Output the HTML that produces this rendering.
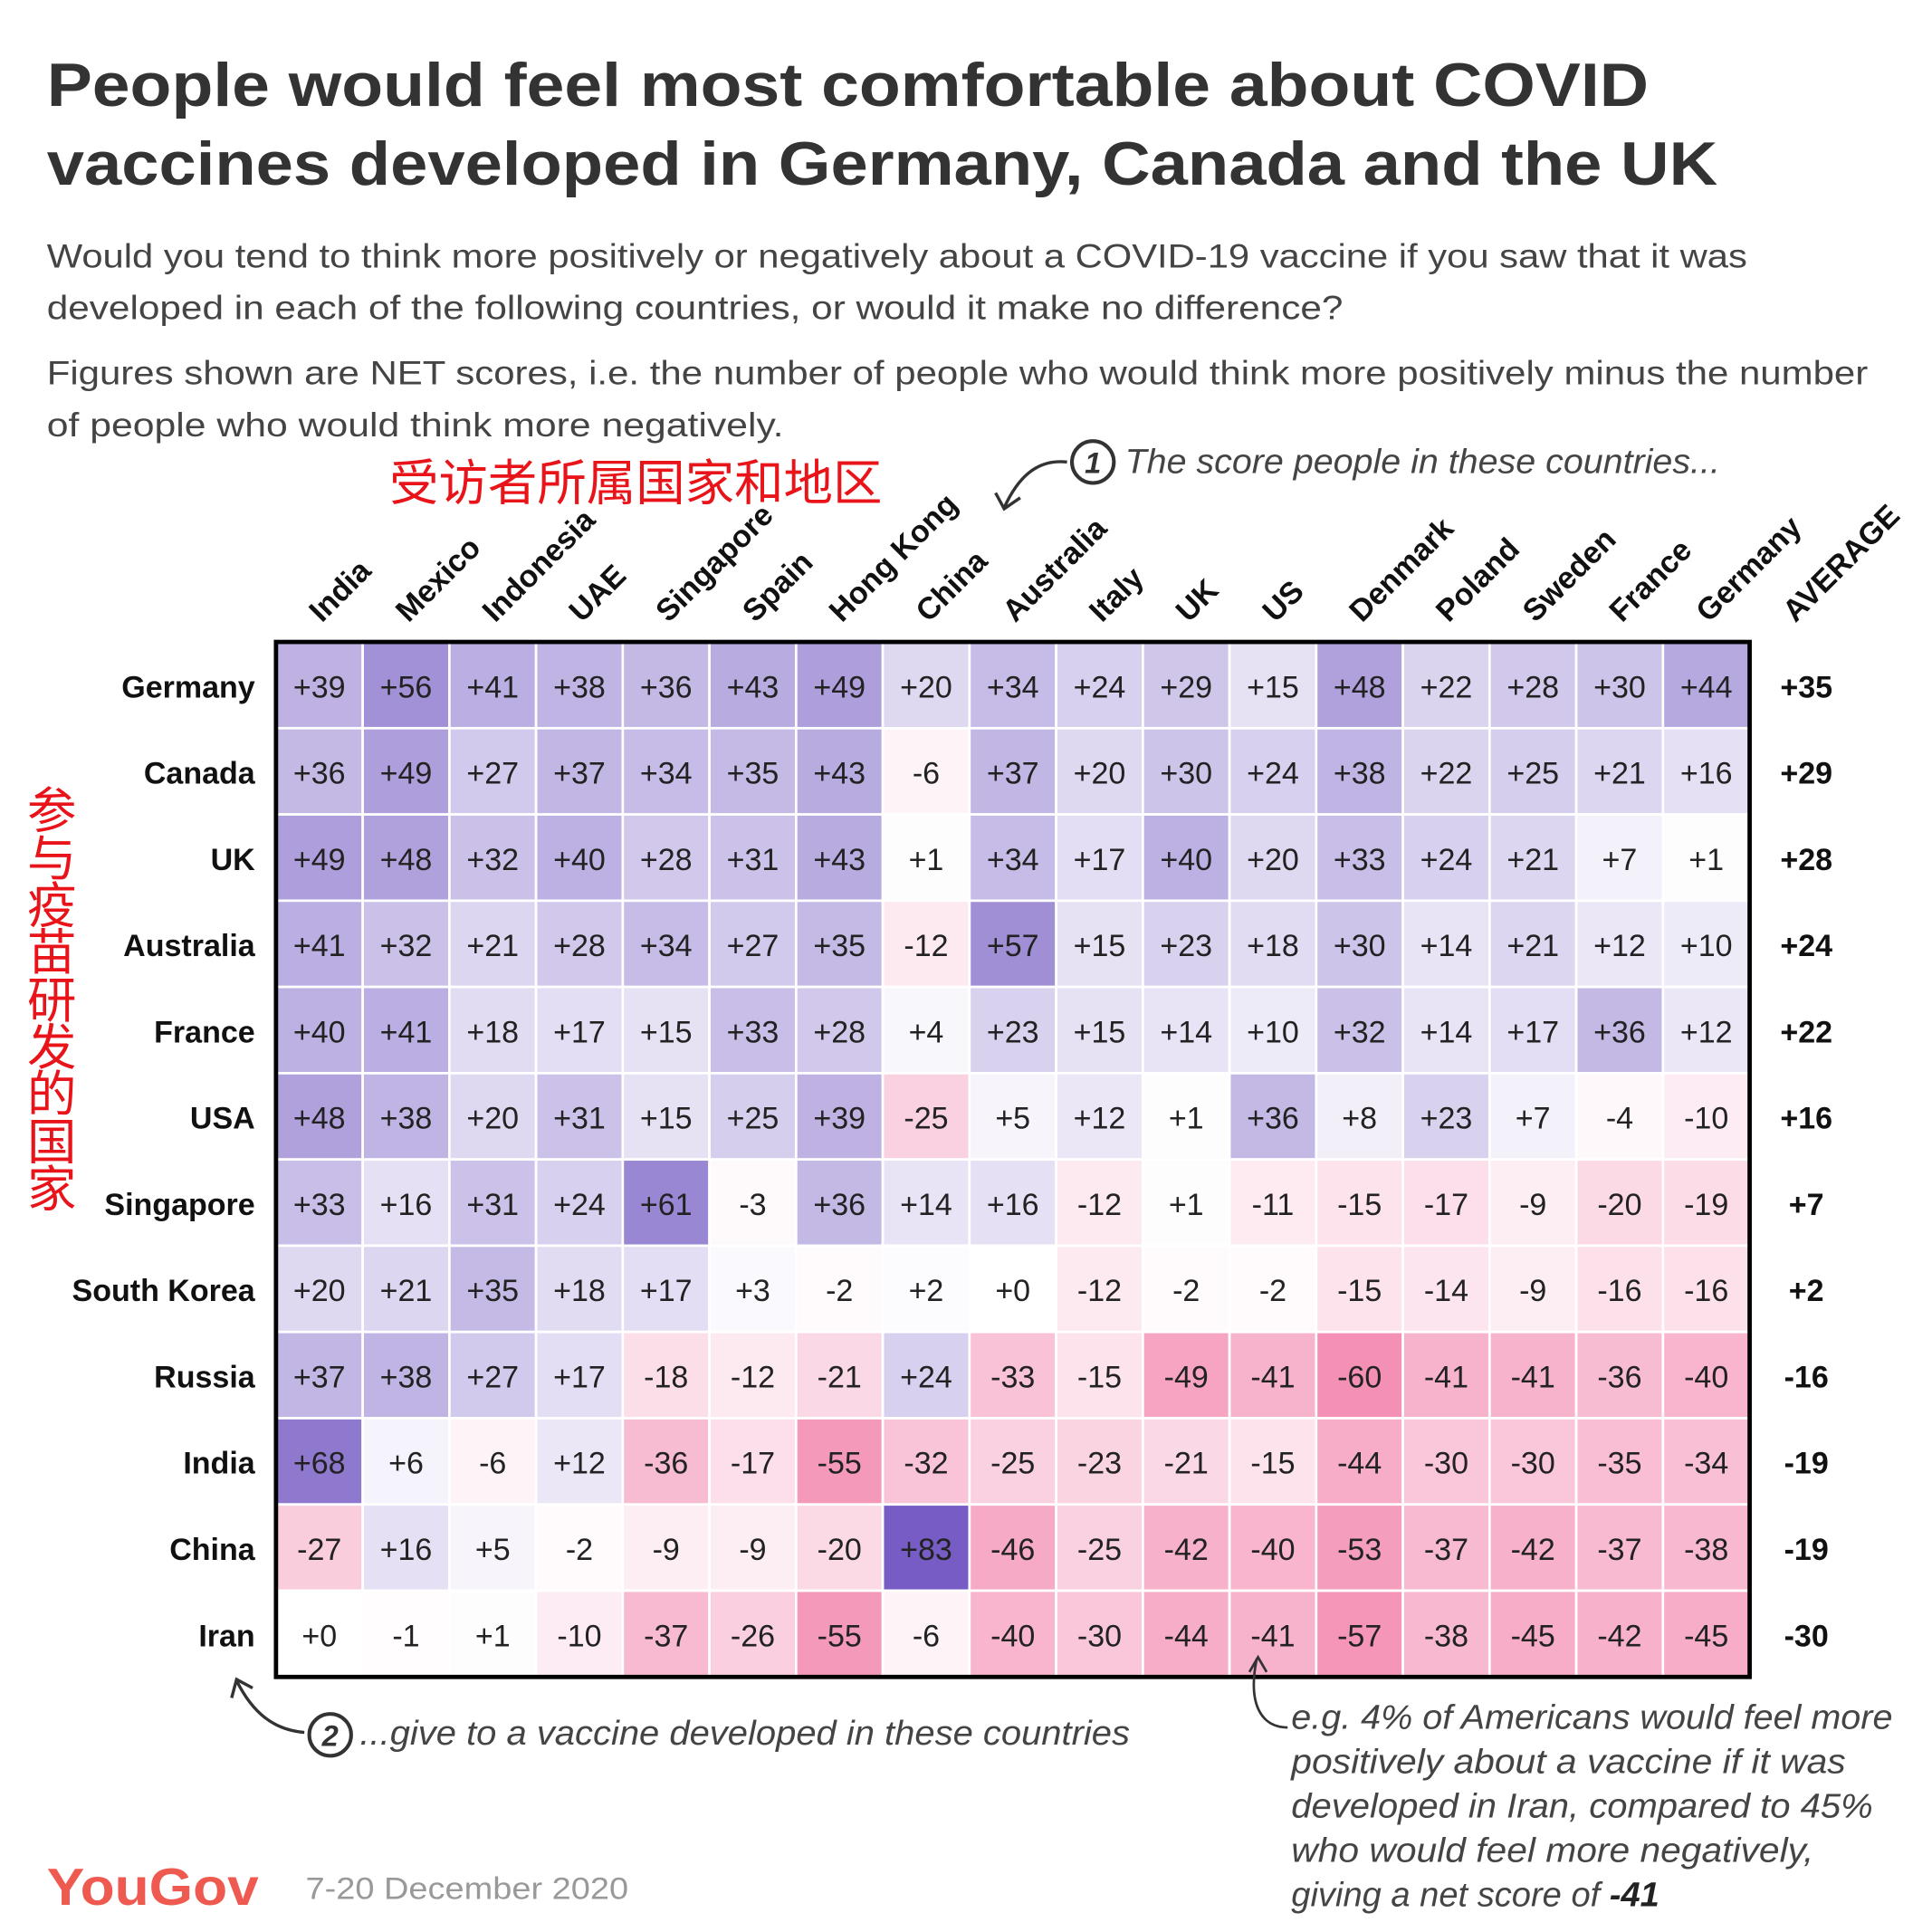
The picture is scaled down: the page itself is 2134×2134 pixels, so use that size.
<!DOCTYPE html>
<html><head><meta charset="utf-8"><style>html,body{margin:0;padding:0;background:#fff}svg{display:block}</style></head>
<body>
<svg id="chart" width="2134" height="2134" viewBox="0 0 1568 1568" xmlns="http://www.w3.org/2000/svg" font-family="'Liberation Sans','Noto Sans CJK SC',sans-serif">
<g fill="#333" font-weight="bold" font-size="50">
<text x="38" y="86" textLength="1300" lengthAdjust="spacingAndGlyphs">People would feel most comfortable about COVID</text>
<text x="38" y="150" textLength="1356" lengthAdjust="spacingAndGlyphs">vaccines developed in Germany, Canada and the UK</text>
</g>
<g fill="#444" font-size="27">
<text x="38" y="217" textLength="1380" lengthAdjust="spacingAndGlyphs">Would you tend to think more positively or negatively about a COVID-19 vaccine if you saw that it was</text>
<text x="38" y="259" textLength="1052" lengthAdjust="spacingAndGlyphs">developed in each of the following countries, or would it make no difference?</text>
<text x="38" y="312" textLength="1478" lengthAdjust="spacingAndGlyphs">Figures shown are NET scores, i.e. the number of people who would think more positively minus the number</text>
<text x="38" y="354" textLength="598" lengthAdjust="spacingAndGlyphs">of people who would think more negatively.</text>
</g>
<text x="316" y="406" font-size="40" fill="#e8141a" textLength="400" lengthAdjust="spacingAndGlyphs">受访者所属国家和地区</text>
<g font-size="40" fill="#e8141a" text-anchor="middle">
<text x="42" y="672">参</text><text x="42" y="711">与</text><text x="42" y="749">疫</text><text x="42" y="787">苗</text><text x="42" y="826">研</text><text x="42" y="864">发</text><text x="42" y="902">的</text><text x="42" y="941">国</text><text x="42" y="979">家</text>
</g>
<g id="cells"></g>
<g id="collabels"></g>
<g id="rowlabels"></g>
<rect x="224" y="521" width="1196" height="840" fill="none" stroke="#000" stroke-width="3.5"/>
<g>
<circle cx="887" cy="375" r="17" fill="none" stroke="#333" stroke-width="3"/>
<text x="887" y="384" font-size="24" font-weight="bold" font-style="italic" text-anchor="middle" fill="#333">1</text>
<text x="913" y="384" font-size="28" font-style="italic" fill="#444" textLength="483" lengthAdjust="spacingAndGlyphs">The score people in these countries...</text>
<path d="M866,375 C840,372 825,390 815,412" fill="none" stroke="#333" stroke-width="2.5"/>
<path d="M808,400 L815,413 L828,404" fill="none" stroke="#333" stroke-width="2.5"/>
</g>
<g>
<circle cx="268" cy="1408" r="17" fill="none" stroke="#333" stroke-width="3"/>
<text x="268" y="1417" font-size="24" font-weight="bold" font-style="italic" text-anchor="middle" fill="#333">2</text>
<text x="292" y="1416" font-size="28" font-style="italic" fill="#444" textLength="625" lengthAdjust="spacingAndGlyphs">...give to a vaccine developed in these countries</text>
<path d="M247,1406 C222,1404 205,1390 192,1364" fill="none" stroke="#333" stroke-width="2.5"/>
<path d="M188,1378 L192,1363 L205,1370" fill="none" stroke="#333" stroke-width="2.5"/>
</g>
<g font-size="28" font-style="italic" fill="#444">
<path d="M1045,1402 C1025,1402 1012,1385 1020,1346" fill="none" stroke="#333" stroke-width="2"/>
<path d="M1014,1357 L1021,1345 L1028,1357" fill="none" stroke="#333" stroke-width="2"/>
<text x="1048" y="1403" textLength="488" lengthAdjust="spacingAndGlyphs">e.g. 4% of Americans would feel more</text>
<text x="1048" y="1439" textLength="450" lengthAdjust="spacingAndGlyphs">positively about a vaccine if it was</text>
<text x="1048" y="1475" textLength="472" lengthAdjust="spacingAndGlyphs">developed in Iran, compared to 45%</text>
<text x="1048" y="1511" textLength="424" lengthAdjust="spacingAndGlyphs">who would feel more negatively,</text>
<text x="1048" y="1547">giving a net score of <tspan font-weight="bold" fill="#222">-41</tspan></text>
</g>
<text x="38" y="1546" font-size="42" font-weight="bold" fill="#ee5a4f" textLength="172" lengthAdjust="spacingAndGlyphs">YouGov</text>
<text x="248" y="1541" font-size="25" fill="#999" textLength="262" lengthAdjust="spacingAndGlyphs">7-20 December 2020</text>
</svg>
<script>
const respondents = ["India","Mexico","Indonesia","UAE","Singapore","Spain","Hong Kong","China","Australia","Italy","UK","US","Denmark","Poland","Sweden","France","Germany"];
const origins = ["Germany","Canada","UK","Australia","France","USA","Singapore","South Korea","Russia","India","China","Iran"];
const scores = [
[39,56,41,38,36,43,49,20,34,24,29,15,48,22,28,30,44],
[36,49,27,37,34,35,43,-6,37,20,30,24,38,22,25,21,16],
[49,48,32,40,28,31,43,1,34,17,40,20,33,24,21,7,1],
[41,32,21,28,34,27,35,-12,57,15,23,18,30,14,21,12,10],
[40,41,18,17,15,33,28,4,23,15,14,10,32,14,17,36,12],
[48,38,20,31,15,25,39,-25,5,12,1,36,8,23,7,-4,-10],
[33,16,31,24,61,-3,36,14,16,-12,1,-11,-15,-17,-9,-20,-19],
[20,21,35,18,17,3,-2,2,0,-12,-2,-2,-15,-14,-9,-16,-16],
[37,38,27,17,-18,-12,-21,24,-33,-15,-49,-41,-60,-41,-41,-36,-40],
[68,6,-6,12,-36,-17,-55,-32,-25,-23,-21,-15,-44,-30,-30,-35,-34],
[-27,16,5,-2,-9,-9,-20,83,-46,-25,-42,-40,-53,-37,-42,-37,-38],
[0,-1,1,-10,-37,-26,-55,-6,-40,-30,-44,-41,-57,-38,-45,-42,-45]
];
const averages = [35,29,28,24,22,16,7,2,-16,-19,-19,-30];
const NS="http://www.w3.org/2000/svg";
const X0=224,X1=1420,Y0=521,Y1=1361;
const cw=(X1-X0)/respondents.length, rh=(Y1-Y0)/origins.length;
const xPos=i=>X0+i*cw, yPos=j=>Y0+j*rh;
function color(v){
  const t=Math.min(Math.abs(v)/83,1);
  const c=v>=0?[118,92,196]:[240,101,152];
  const m=c.map(k=>Math.round(255+(k-255)*t));
  return `rgb(${m[0]},${m[1]},${m[2]})`;
}
function fmt(v){return v<0?String(v):"+"+v;}
const cells=document.getElementById('cells');
scores.forEach((row,j)=>row.forEach((v,i)=>{
  const r=document.createElementNS(NS,'rect');
  
  
  r.setAttribute('x',xPos(i));r.setAttribute('y',yPos(j));
  r.setAttribute('width',cw);r.setAttribute('height',rh);
  r.setAttribute('fill',color(v));r.setAttribute('stroke','#fff');r.setAttribute('stroke-width','2');
  cells.appendChild(r);
  const t=document.createElementNS(NS,'text');
  
  
  t.setAttribute('x',xPos(i)+cw/2);t.setAttribute('y',yPos(j)+rh/2+10);
  t.setAttribute('text-anchor','middle');t.setAttribute('font-size','25');t.setAttribute('fill','#222');
  t.textContent=fmt(v);
  cells.appendChild(t);
}));
const cl=document.getElementById('collabels');
respondents.concat(["AVERAGE"]).forEach((n,i)=>{
  const x=xPos(i)+cw/2+2, y=506;
  const t=document.createElementNS(NS,'text');
  
  
  t.setAttribute('x',x);t.setAttribute('y',y);
  t.setAttribute('transform',`rotate(-45 ${x} ${y})`);
  t.setAttribute('font-size','25');t.setAttribute('font-weight','bold');t.setAttribute('fill','#111');
  t.textContent=n;cl.appendChild(t);
});
const rl=document.getElementById('rowlabels');
origins.forEach((n,j)=>{
  const t=document.createElementNS(NS,'text');
  
  
  t.setAttribute('x',207);t.setAttribute('y',yPos(j)+rh/2+10);
  t.setAttribute('text-anchor','end');t.setAttribute('font-size','25');t.setAttribute('font-weight','bold');t.setAttribute('fill','#111');
  t.textContent=n;rl.appendChild(t);
  const a=document.createElementNS(NS,'text');
  
  
  a.setAttribute('x',1466);a.setAttribute('y',yPos(j)+rh/2+10);
  a.setAttribute('text-anchor','middle');a.setAttribute('font-size','25');a.setAttribute('font-weight','bold');a.setAttribute('fill','#111');
  a.textContent=fmt(averages[j]);rl.appendChild(a);
});
</script>
</body></html>
